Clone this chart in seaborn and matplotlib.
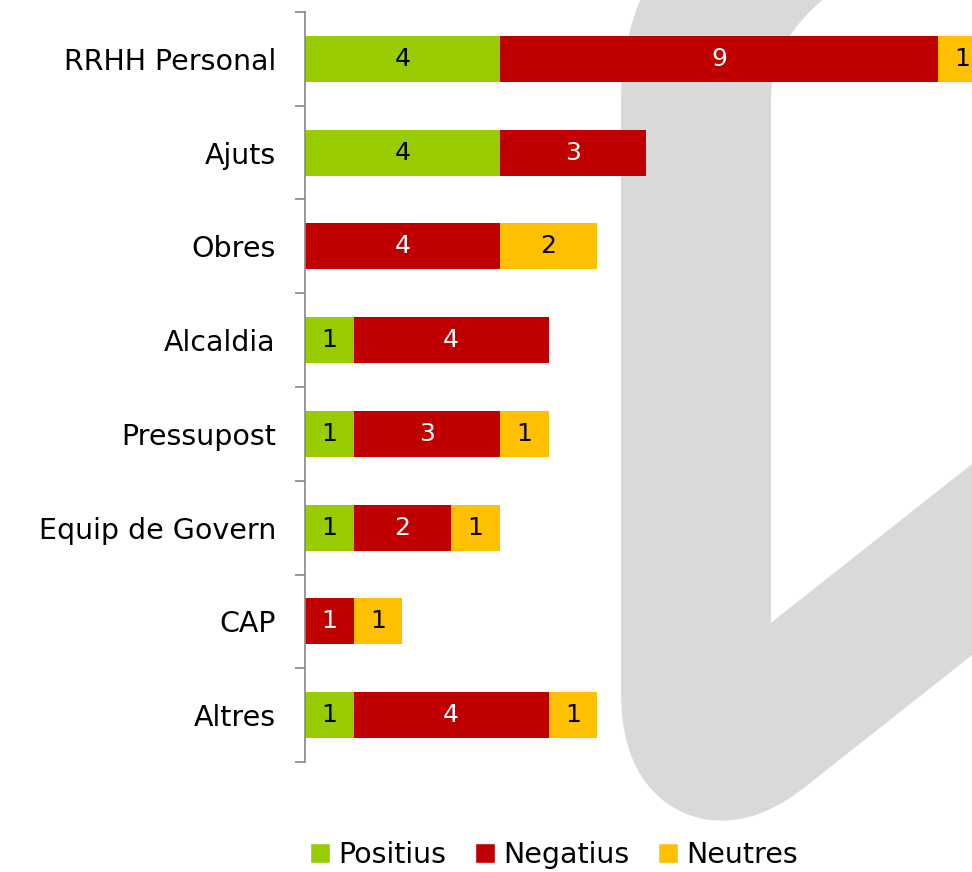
import matplotlib
matplotlib.use("Agg")
import matplotlib.pyplot as plt
from matplotlib.path import Path
from matplotlib.patches import PathPatch, Patch
import seaborn as sns
import pandas as pd
import numpy as np

# data
categories = ['RRHH Personal', 'Ajuts', 'Obres', 'Alcaldia', 'Pressupost',
              'Equip de Govern', 'CAP', 'Altres']
positius = [4, 4, 0, 1, 1, 1, 0, 1]
negatius = [9, 3, 4, 4, 3, 2, 1, 4]
neutres = [1, 0, 2, 0, 1, 1, 1, 1]

series_names = ['Positius', 'Negatius', 'Neutres']
colors = ['#99CC00', '#C00000', '#FFC000']
text_colors = ['black', 'white', 'black']

sns.set_style("white")
plt.rcParams['font.family'] = ['DejaVu Sans']
plt.rcParams['text.color'] = 'black'
plt.rcParams['ytick.labelcolor'] = 'black'

df = pd.DataFrame({'cat': categories, 'Positius': positius,
                   'Negatius': negatius, 'Neutres': neutres})
df['c1'] = df['Positius']
df['c2'] = df['c1'] + df['Negatius']
df['c3'] = df['c2'] + df['Neutres']

W, H = 972, 872
fig = plt.figure(figsize=(W / 100, H / 100), dpi=100)
fig.patch.set_facecolor('white')

# light grey watermark shape behind the chart
def fp(x, y):
    return (x / W, 1 - y / H)

verts = [fp(790, -70), fp(696, 0), fp(696, 100), fp(696, 690),
         fp(696, 778), fp(760, 727), fp(1250, 340)]
codes = [Path.MOVETO, Path.CURVE3, Path.CURVE3, Path.LINETO,
         Path.CURVE3, Path.CURVE3, Path.LINETO]
# near-invisible face keeps the renderer from cutting the stroke at the canvas edge
wm = PathPatch(Path(verts, codes), transform=fig.transFigure, fill=True,
               facecolor=(1, 1, 1, 0.002), edgecolor='#d9d9d9', linewidth=108,
               capstyle='butt', joinstyle='round', zorder=0)
fig.add_artist(wm)

ax = fig.add_axes([305 / W, 1 - 762 / H, 1 - 305 / W, (762 - 12) / H])
ax.set_zorder(1)
ax.patch.set_alpha(0)

# stacked bars: draw cumulative totals back to front
for col, color in zip(['c3', 'c2', 'c1'], colors[::-1]):
    sns.barplot(data=df, y='cat', x=col, color=color, width=0.49,
                saturation=1, orient='h', linewidth=0, ax=ax)

# segment labels
for i in range(len(categories)):
    left = 0
    for name, tc in zip(series_names, text_colors):
        v = df[name][i]
        if v > 0:
            ax.text(left + v / 2, i, str(v), ha='center', va='center',
                    color=tc, fontsize=18)
        left += v

ax.set_xlim(0, 667 / 48.7)
ax.set_ylim(7.5, -0.5)
ax.set_xlabel('')
ax.set_ylabel('')
ax.xaxis.set_visible(False)
for s in ['top', 'right', 'bottom']:
    ax.spines[s].set_visible(False)
ax.spines['left'].set_color('#868686')
ax.spines['left'].set_linewidth(1.2)

ax.set_yticks(np.arange(-0.5, len(categories), 1))
ax.set_yticklabels([])
ax.set_yticks(np.arange(len(categories)), minor=True)
ax.set_yticklabels(categories, minor=True, fontsize=20.5, color='black')
ax.tick_params(axis='y', which='major', length=7.2, width=1.2,
               color='#868686', left=True)
ax.tick_params(axis='y', which='minor', length=0, pad=21)

handles = [Patch(facecolor=c, label=n) for c, n in zip(colors, series_names)]
fig.legend(handles=handles, loc='center', bbox_to_anchor=(554 / W, 1 - 855 / H),
           ncol=3, frameon=False, fontsize=20.5, handlelength=0.7,
           handleheight=0.7, handletextpad=0.3, columnspacing=1.0,
           labelcolor='black')

fig.savefig('out.png', dpi=100)
